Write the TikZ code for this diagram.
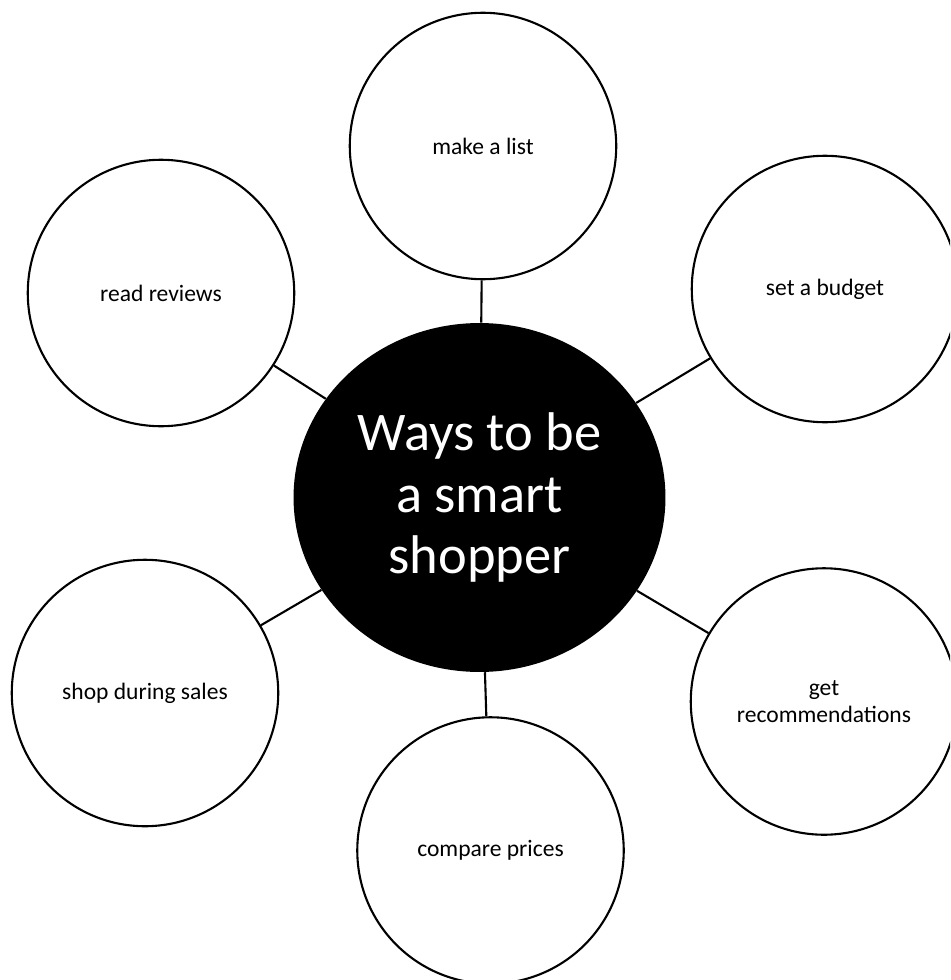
\documentclass[tikz,border=0pt]{standalone}
\usepackage{fontspec}
\setmainfont{Carlito}
\usetikzlibrary{shapes.geometric}

\begin{document}
\begin{tikzpicture}[x=0.02cm, y=-0.02cm,
    ideia/.style={circle, draw, line width=1.2pt, minimum size=5.33cm, inner sep=0pt,
      align=center, font=\fontsize{13.4}{15.5}\selectfont},
    centro/.style={ellipse, fill=black, text=white, minimum width=7.44cm, minimum height=6.98cm,
      inner sep=0pt, align=center, font=\fontsize{31}{35}\selectfont},
    liga/.style={line width=1.2pt}]
  \path[use as bounding box] (0,0) rectangle (950,980);
  \clip (0,0) rectangle (950,980);

    % centro
  \node[centro] (hub) at (479.5,497.5) {Ways to be\\a smart\\shopper};

    % itens em volta
  \node[ideia] (lista)    at (483,146)   {make a list};
  \node[ideia] (budget)   at (825,289)   {set a budget};
  \node[ideia] (recs)     at (824,701.5) {get\\recommendations};
  \node[ideia] (prices)   at (490.5,850.5) {compare prices};
  \node[ideia] (sales)    at (145,693)   {shop during sales};
  \node[ideia] (reviews)  at (161,293)   {read reviews};

    % ligacoes
  \foreach \n in {lista,budget,recs,prices,sales,reviews}
    \draw[liga] (hub) -- (\n);
\end{tikzpicture}
\end{document}
